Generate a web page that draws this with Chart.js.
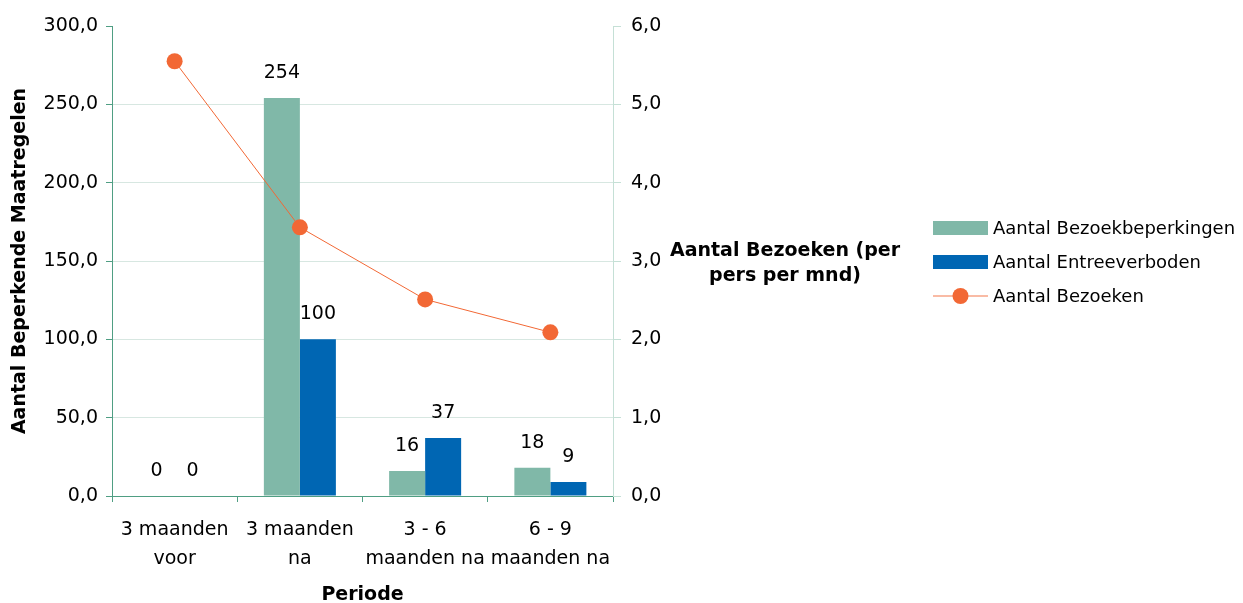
<!DOCTYPE html>
<html>
<head>
<meta charset="utf-8">
<script src="https://cdn.jsdelivr.net/npm/chart.js@4.4.1/dist/chart.umd.min.js"></script>
<style>
  html, body { margin: 0; padding: 0; background: #fff; }
</style>
</head>
<body>
<canvas id="chart" width="1243" height="603"></canvas>
<script>
var categories = [["3 maanden", "voor"], ["3 maanden", "na"], ["3 - 6", "maanden na"], ["6 - 9", "maanden na"]];
var bezoekbeperkingen = [0, 254, 16, 18];
var entreeverboden = [0, 100, 37, 9];
var bezoeken = [5.55, 3.43, 2.51, 2.09];

var green = '#80b8a8', blue = '#0066b3', orange = '#f26835';
var axisGreen = '#4f9e83', lightGreen = '#c5e0d6', gridColor = '#d7e7e1';

Chart.defaults.font.family = '"DejaVu Sans", Verdana, sans-serif';
Chart.defaults.font.size = 19;
Chart.defaults.color = '#000';

function comma(v) { return Number(v).toFixed(1).replace('.', ','); }

// value labels above the bars
var barLabels = {
  id: 'barLabels',
  afterDatasetsDraw: function(chart) {
    var ctx = chart.ctx;
    ctx.save();
    ctx.font = '19px "DejaVu Sans"';
    ctx.fillStyle = '#000';
    ctx.textAlign = 'center';
    ctx.textBaseline = 'middle';
    chart.data.datasets.forEach(function(ds, i) {
      if (ds.type === 'line') return;
      chart.getDatasetMeta(i).data.forEach(function(el, j) {
        ctx.fillText(String(ds.data[j]), el.x, el.y - 25);
      });
    });
    ctx.restore();
  }
};

// horizontal title for right axis + legend
var extras = {
  id: 'extras',
  afterDraw: function(chart) {
    var ctx = chart.ctx;
    ctx.save();
    ctx.fillStyle = '#000';
    ctx.textAlign = 'center';
    ctx.textBaseline = 'middle';
    ctx.font = 'bold 19px "DejaVu Sans"';
    ctx.fillText('Aantal Bezoeken (per', 785, 251);
    ctx.fillText('pers per mnd)', 785, 276);

    var rows = [228, 262, 296];
    ctx.textAlign = 'left';
    ctx.font = '18px "DejaVu Sans"';
    var ds = chart.data.datasets;
    var items = [ds[1], ds[2], ds[0]];
    items.forEach(function(d, k) {
      var y = rows[k];
      if (d.type === 'line') {
        ctx.strokeStyle = 'rgba(242,104,53,0.6)';
        ctx.lineWidth = 1.5;
        ctx.beginPath(); ctx.moveTo(933, y); ctx.lineTo(988, y); ctx.stroke();
        ctx.fillStyle = orange;
        ctx.beginPath(); ctx.arc(960.5, y, 8, 0, Math.PI * 2); ctx.fill();
      } else {
        ctx.fillStyle = d.backgroundColor;
        ctx.fillRect(933, y - 7, 55, 14);
      }
      ctx.fillStyle = '#000';
      ctx.fillText(d.label, 993, y + 1);
    });
    ctx.restore();
  }
};

new Chart(document.getElementById('chart'), {
  type: 'bar',
  data: {
    labels: categories,
    datasets: [
      {
        type: 'line', label: 'Aantal Bezoeken', data: bezoeken, yAxisID: 'y1',
        borderColor: orange, backgroundColor: orange, borderWidth: 1,
        pointRadius: 8, pointBackgroundColor: orange, pointBorderWidth: 0,
        tension: 0, order: 0
      },
      {
        label: 'Aantal Bezoekbeperkingen', data: bezoekbeperkingen, yAxisID: 'y',
        backgroundColor: green, barPercentage: 1, categoryPercentage: 0.575, order: 1
      },
      {
        label: 'Aantal Entreeverboden', data: entreeverboden, yAxisID: 'y',
        backgroundColor: blue, barPercentage: 1, categoryPercentage: 0.575, order: 1
      }
    ]
  },
  options: {
    responsive: false,
    animation: false,
    devicePixelRatio: 1,
    layout: { padding: { top: 26, left: 0, right: 0, bottom: 0 } },
    plugins: { legend: { display: false }, tooltip: { enabled: false } },
    scales: {
      x: {
        ticks: { padding: 14, maxRotation: 0, autoSkip: false, font: { size: 19, lineHeight: 1.5 } },
        grid: { offset: true, drawOnChartArea: false, tickLength: 6, tickColor: axisGreen },
        border: { color: axisGreen },
        title: { display: true, text: 'Periode', font: { weight: 'bold', size: 19, lineHeight: 0.8 }, padding: 0 },
        afterFit: function(s) { s.height = 107; }
      },
      y: {
        position: 'left', min: 0, max: 300,
        ticks: { stepSize: 50, padding: 8, callback: comma },
        grid: {
          color: function(c) { return (c.tick && c.tick.value === 300) ? 'rgba(0,0,0,0)' : gridColor; },
          tickColor: axisGreen, tickLength: 6
        },
        border: { color: axisGreen },
        title: { display: true, text: 'Aantal Beperkende Maatregelen', font: { weight: 'bold', size: 19 }, padding: { top: 9 } },
        afterFit: function(s) { s.width = 112; }
      },
      y1: {
        position: 'right', min: 0, max: 6,
        ticks: { stepSize: 1, padding: 10, callback: comma },
        grid: { drawOnChartArea: false, tickColor: lightGreen, tickLength: 8 },
        border: { color: lightGreen },
        afterFit: function(s) { s.width = 630; }
      }
    }
  },
  plugins: [barLabels, extras]
});
</script>
</body>
</html>
